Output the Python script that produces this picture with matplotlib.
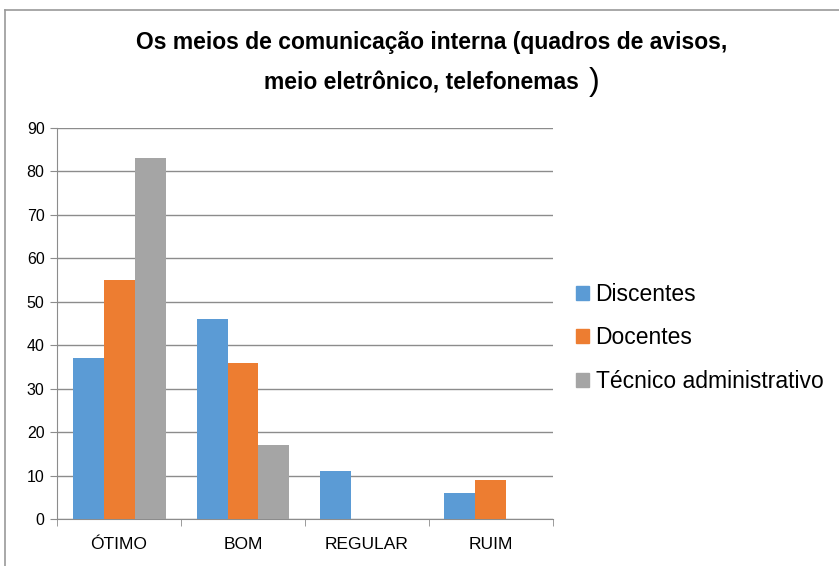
import matplotlib.pyplot as plt
import numpy as np
from matplotlib.lines import Line2D

categorias = ["ÓTIMO", "BOM", "REGULAR", "RUIM"]
discentes = [37, 46, 11, 6]
docentes = [55, 36, 0, 9]
tecnicos = [83, 17, 0, 0]
series = ["Discentes", "Docentes", "Técnico administrativo"]
cores = ["#5B9BD5", "#ED7D31", "#A5A5A5"]

plt.rcParams['font.family'] = ['Liberation Sans', 'DejaVu Sans']

fig = plt.figure(figsize=(8.39, 5.66), dpi=100)
ax = fig.add_axes([0.068, 0.083, 0.591, 0.691])

x = np.arange(len(categorias))
w = 0.25
for i, (vals, nome, cor) in enumerate(zip([discentes, docentes, tecnicos], series, cores)):
    ax.bar(x + (i - 1) * w, vals, width=w, color=cor, label=nome, zorder=3)

ax.set_xlim(-0.5, len(categorias) - 0.5)
ax.set_ylim(0, 90)
ax.set_yticks(range(0, 91, 10))
ax.yaxis.grid(True, color="#8c8c8c", linewidth=1, zorder=0)
ax.set_xticks(x)
ax.set_xticklabels(categorias)
ax.set_xticks(np.arange(-0.5, len(categorias)), minor=True)
ax.tick_params(axis="x", which="major", length=0, pad=13, labelsize=12.5)
ax.tick_params(axis="x", which="minor", length=5, color="#8c8c8c")
ax.tick_params(axis="y", length=5, color="#8c8c8c", labelsize=11.5, pad=4)
for s in ["top", "right"]:
    ax.spines[s].set_visible(False)
for s in ["left", "bottom"]:
    ax.spines[s].set_color("#8c8c8c")

# legenda
fig.legend(handles=[plt.Rectangle((0, 0), 1, 1, color=c) for c in cores], labels=series,
           loc="center left", bbox_to_anchor=(0.662, 0.403), frameon=False,
           prop={"size": 16.5},
           handlelength=0.55, handleheight=0.55, handletextpad=0.3, labelspacing=0.9)

# titulo
fig.text(0.515, 0.925, "Os meios de comunicação interna (quadros de avisos,",
         ha="center", va="center", fontsize=16.5, fontweight="bold")
fig.text(0.5025, 0.853, "meio eletrônico, telefonemas",
         ha="center", va="center", fontsize=16.5, fontweight="bold")
fig.text(0.708, 0.855, ")", ha="center", va="center", fontsize=23)

# moldura do grafico
fig.add_artist(Line2D([0.006, 0.006], [0.0, 0.982], color="#9a9a9a", linewidth=1.2))
fig.add_artist(Line2D([0.006, 1.0], [0.982, 0.982], color="#9a9a9a", linewidth=1.2))

fig.savefig("out.png", dpi=100)
